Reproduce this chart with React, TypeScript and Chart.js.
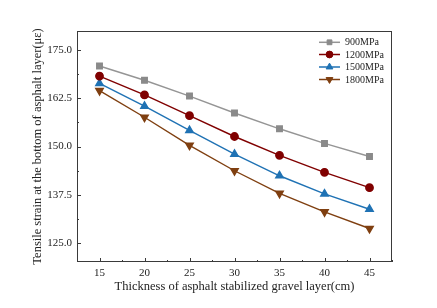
import React, { useEffect, useRef } from "react";
import { Chart, registerables } from "chart.js";

Chart.register(...registerables);

const thickness = [15, 20, 25, 30, 35, 40, 45];
const s900 = [170.9, 167.2, 163.1, 158.7, 154.6, 150.8, 147.4];
const s1200 = [168.3, 163.4, 158.0, 152.6, 147.7, 143.3, 139.3];
const s1500 = [166.4, 160.5, 154.2, 148.0, 142.4, 137.7, 133.7];
const s1800 = [164.5, 157.6, 150.3, 143.7, 137.8, 133.0, 128.7];
const seriesNames = ["900MPa", "1200MPa", "1500MPa", "1800MPa"];
const xTicks = [15, 20, 25, 30, 35, 40, 45];
const xMinor = [12.5, 17.5, 22.5, 27.5, 32.5, 37.5, 42.5, 47.5];
const yTicks = [125.0, 137.5, 150.0, 162.5, 175.0];
const yMinor = [131.25, 143.75, 156.25, 168.75];
const xTitle = "Thickness of asphalt stabilized gravel layer(cm)";
const yTitle = "Tensile strain at the bottom of asphalt layer(με)";

const colors = ["#8a8a8a", "#800000", "#1f72b4", "#7f3f10"];
const lineColors = ["#959595", "#800000", "#1f72b4", "#7f3f10"];
const shapes = ["rect", "circle", "triangle", "triangle"];
const rotations = [0, 0, 0, 180];
const radii = [3.9, 3.7, 4.3, 4.3];
const legendRadii = [3.4, 3.4, 3.9, 3.9];

const FONT = "'Liberation Serif', 'Times New Roman', serif";
const AXIS = "#3a3a3a";

function drawMarker(ctx: CanvasRenderingContext2D, shape: string, r: number, rot: number, x: number, y: number, color: string) {
  ctx.save();
  ctx.fillStyle = color;
  ctx.strokeStyle = color;
  ctx.lineWidth = 1;
  ctx.beginPath();
  if (shape === "rect") {
    const s = Math.SQRT1_2 * r;
    ctx.rect(x - s, y - s, 2 * s, 2 * s);
  } else if (shape === "circle") {
    ctx.arc(x, y, r, 0, Math.PI * 2);
  } else {
    let rad = (rot * Math.PI) / 180;
    for (let k = 0; k < 3; k++) {
      const px = x + Math.sin(rad) * r;
      const py = y - Math.cos(rad) * r;
      if (k === 0) ctx.moveTo(px, py);
      else ctx.lineTo(px, py);
      rad += (2 * Math.PI) / 3;
    }
    ctx.closePath();
  }
  ctx.fill();
  ctx.stroke();
  ctx.restore();
}

const framePlugin = {
  id: "framePlugin",
  afterDraw(chart: any) {
    const { ctx, chartArea, scales } = chart;
    const { left, right, top, bottom } = chartArea;
    ctx.save();
    ctx.strokeStyle = AXIS;
    ctx.lineWidth = 1;
    ctx.strokeRect(left + 0.5, top + 0.5, right - left - 1, bottom - top - 1);
    ctx.beginPath();
    xTicks.forEach((v) => {
      const x = Math.round(scales.x.getPixelForValue(v)) + 0.5;
      ctx.moveTo(x, bottom);
      ctx.lineTo(x, bottom - 4);
    });
    xMinor.forEach((v) => {
      const x = Math.round(scales.x.getPixelForValue(v)) + 0.5;
      ctx.moveTo(x, bottom);
      ctx.lineTo(x, bottom - 2);
    });
    yTicks.forEach((v) => {
      const y = Math.round(scales.y.getPixelForValue(v)) + 0.5;
      ctx.moveTo(left, y);
      ctx.lineTo(left + 4, y);
    });
    yMinor.forEach((v) => {
      const y = Math.round(scales.y.getPixelForValue(v)) + 0.5;
      ctx.moveTo(left, y);
      ctx.lineTo(left + 2, y);
    });
    ctx.stroke();

    // legend inside the plot
    const lx0 = 319;
    const lx1 = 340;
    const tx = 345;
    const ys = [42.3, 54.5, 67, 79.5];
    ctx.font = "10px " + FONT;
    ctx.textBaseline = "middle";
    ctx.textAlign = "left";
    seriesNames.forEach((name, i) => {
      const y = ys[i];
      ctx.strokeStyle = lineColors[i];
      ctx.lineWidth = 1.5;
      ctx.beginPath();
      ctx.moveTo(lx0, y);
      ctx.lineTo(lx1, y);
      ctx.stroke();
      drawMarker(ctx, shapes[i], legendRadii[i], rotations[i], (lx0 + lx1) / 2, y, colors[i]);
      ctx.fillStyle = "#222";
      ctx.fillText(name, tx, y + 0.5);
    });
    ctx.restore();
  },
};

export default function App() {
  const ref = useRef<HTMLCanvasElement>(null);
  useEffect(() => {
    document.body.style.margin = "0";
    const all = [s900, s1200, s1500, s1800];
    const chart = new Chart(ref.current!, {
      type: "line",
      data: {
        datasets: all.map((vals, i) => ({
          label: seriesNames[i],
          data: thickness.map((t, j) => ({ x: t, y: vals[j] })),
          borderColor: lineColors[i],
          backgroundColor: colors[i],
          pointBackgroundColor: colors[i],
          pointBorderColor: colors[i],
          pointStyle: shapes[i] as any,
          pointRotation: rotations[i],
          pointRadius: radii[i],
          borderWidth: 1.4,
          tension: 0,
        })),
      },
      options: {
        responsive: false,
        animation: false,
        layout: { padding: { top: 31, right: 45, left: 0, bottom: 0 } },
        plugins: { legend: { display: false }, tooltip: { enabled: false } },
        scales: {
          x: {
            type: "linear",
            min: 12.5,
            max: 47.5,
            afterBuildTicks: (s: any) => {
              s.ticks = xTicks.map((v) => ({ value: v }));
            },
            afterFit: (s: any) => {
              s.height = 46;
            },
            grid: { display: false, drawTicks: false },
            border: { display: false },
            ticks: {
              padding: 5,
              color: "#222",
              font: { family: FONT, size: 11 },
              callback: (v: any) => String(v),
            },
            title: {
              display: true,
              text: xTitle,
              color: "#222",
              font: { family: FONT, size: 12.5 },
              padding: { top: 0, bottom: 14 },
            },
          },
          y: {
            type: "linear",
            min: 120,
            max: 180,
            afterBuildTicks: (s: any) => {
              s.ticks = yTicks.map((v) => ({ value: v }));
            },
            afterFit: (s: any) => {
              s.width = 77;
            },
            grid: { display: false, drawTicks: false },
            border: { display: false },
            ticks: {
              padding: 5,
              color: "#222",
              font: { family: FONT, size: 11 },
              callback: (v: any) => Number(v).toFixed(1),
            },
            title: {
              display: true,
              text: yTitle,
              color: "#222",
              font: { family: FONT, size: 12.5 },
              padding: { top: 30, bottom: 0 },
            },
          },
        },
      },
      plugins: [framePlugin],
    });
    return () => chart.destroy();
  }, []);
  return (
    <div style={{ width: 437, height: 308, background: "#fff" }}>
      <canvas ref={ref} width={437} height={308} />
    </div>
  );
}
